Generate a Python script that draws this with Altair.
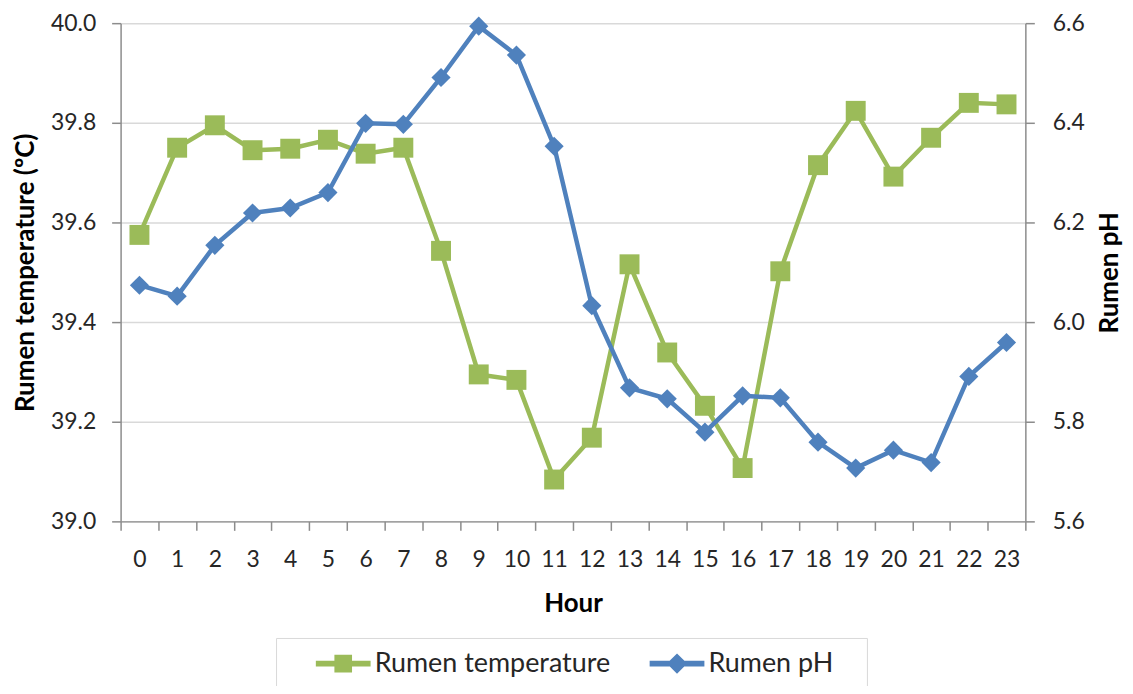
import altair as alt
import pandas as pd

hours = list(range(24))
rumen_temperature = [39.575, 39.750, 39.795, 39.745, 39.748, 39.766, 39.738, 39.750,
                     39.543, 39.295, 39.284, 39.084, 39.168, 39.516, 39.339, 39.232,
                     39.107, 39.502, 39.715, 39.824, 39.692, 39.770, 39.840, 39.837]
rumen_ph = [6.074, 6.052, 6.154, 6.219, 6.229, 6.260, 6.399, 6.397,
            6.491, 6.594, 6.536, 6.353, 6.033, 5.868, 5.846, 5.779,
            5.852, 5.848, 5.759, 5.707, 5.743, 5.718, 5.891, 5.959]
series_names = ["Rumen temperature", "Rumen pH"]
series_colors = ["#9BBB59", "#4F81BD"]
temp_ticks = [39.0, 39.2, 39.4, 39.6, 39.8, 40.0]
ph_ticks = [5.6, 5.8, 6.0, 6.2, 6.4, 6.6]

df = pd.DataFrame({"hour": hours, "temp": rumen_temperature, "ph": rumen_ph})
legend_df = pd.DataFrame({"series": series_names})

GREEN, BLUE = series_colors
AXIS_GRAY = "#8c8c8c"

x_enc = alt.X(
    "hour:Q",
    scale=alt.Scale(domain=[-0.5, 23.5], nice=False, zero=False),
    axis=alt.Axis(
        title="Hour",
        values=[h - 0.5 for h in range(25)],
        labelExpr="datum.value > 23 ? '' : format(datum.value + 0.5, 'd')",
        labelOffset=18.9,
        tickSize=9,
        labelPadding=36,
        labelBaseline="alphabetic",
        labelFlush=False,
        labelOverlap=False,
        grid=False,
        titleY=90,
        titleBaseline="alphabetic",
    ),
)

temp_line = alt.Chart(df).mark_line(
    color=GREEN, strokeWidth=4.5,
    point=alt.OverlayMarkDef(shape="square", size=400, filled=True, color=GREEN, opacity=1),
).encode(
    x=x_enc,
    y=alt.Y(
        "temp:Q",
        scale=alt.Scale(domain=[39.0, 40.0], nice=False, zero=False),
        axis=alt.Axis(
            title="Rumen temperature (ºC)",
            orient="left",
            values=temp_ticks,
            format=".1f",
            tickSize=9,
            labelPadding=16,
            grid=True,
            gridColor="#d9d9d9",
            gridWidth=1.5,
            titleAngle=270,
            titleBaseline="alphabetic",
            titleX=-87,
        ),
    ),
)

sq_path = "M-1,0 M1.07,-0.22H5.14V0.22H1.07Z M2.45,-0.66H3.76V0.66H2.45Z"
di_path = "M-1,0 M16.3,0 M1.07,-0.22H5.14V0.22H1.07Z M3.105,-0.76L3.865,0L3.105,0.76L2.345,0Z"

leg = alt.Legend(
    title=None,
    orient="none",
    legendX=156,
    legendY=617,
    direction="horizontal",
    strokeColor="#d9d9d9",
    fillColor="white",
    padding=12,
    columnPadding=11,
    labelFont="Lato",
    labelFontSize=27,
    labelColor="#262626",
    labelLimit=600,
    labelOffset=60,
    symbolSize=729,
    symbolStrokeWidth=0,
    symbolOpacity=1,
)

legend_layer = alt.Chart(legend_df).transform_filter(
    "datum.series == 'none'"
).mark_point(filled=True).encode(
    color=alt.Color("series:N", scale=alt.Scale(domain=series_names, range=series_colors), legend=leg),
    shape=alt.Shape("series:N", scale=alt.Scale(domain=series_names, range=[sq_path, di_path]), legend=leg),
)

ph_line = alt.Chart(df).mark_line(
    color=BLUE, strokeWidth=4.5,
    point=alt.OverlayMarkDef(shape="diamond", size=370, filled=True, color=BLUE, opacity=1),
).encode(
    x=x_enc,
    y=alt.Y(
        "ph:Q",
        scale=alt.Scale(domain=[5.6, 6.6], nice=False, zero=False),
        axis=alt.Axis(
            title="Rumen pH",
            orient="right",
            values=ph_ticks,
            format=".1f",
            tickSize=9,
            labelPadding=18,
            grid=False,
            titleAngle=270,
            titleBaseline="alphabetic",
            titleX=92,
        ),
    ),
)

left = alt.layer(temp_line, legend_layer)
chart = alt.layer(left, ph_line).resolve_scale(y="independent").properties(
    width=908,
    height=500,
    autosize=alt.AutoSizeParams(type="none"),
    padding={"left": 113, "top": 14, "right": 100, "bottom": 164},
).configure(
    font="Lato",
).configure_view(
    stroke=None,
).configure_axis(
    labelFont="Lato",
    titleFont="Lato",
    labelFontSize=23,
    titleFontSize=26,
    labelColor="#262626",
    titleColor="#000000",
    domainColor=AXIS_GRAY,
    tickColor=AXIS_GRAY,
    domainWidth=1.5,
    tickWidth=1.5,
)

chart.save("out.html", embed_options={"renderer": "svg", "actions": False})
